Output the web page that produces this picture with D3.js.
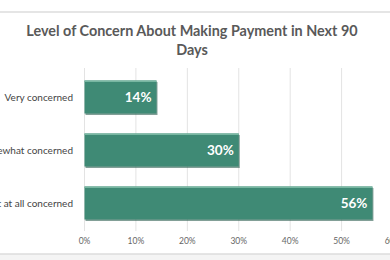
<!DOCTYPE html>
<html>
<head>
<meta charset="utf-8">
<script src="https://cdn.jsdelivr.net/npm/d3@7"></script>
<style>
  html, body { margin: 0; padding: 0; background: #fff; }
  svg { display: block; font-family: Lato, "Open Sans", sans-serif; }
</style>
</head>
<body>
<div id="chart"></div>
<script>
const titleLines = ['Level of Concern About Making Payment in Next 90', 'Days'];
const categories = ['Very concerned', 'Somewhat concerned', 'Not at all concerned'];
const values = [14, 30, 56];
const xTicks = [0, 10, 20, 30, 40, 50, 60];

const width = 390, height = 260;
const x0 = 84.5, x60 = 393;

const svg = d3.select('#chart').append('svg')
    .attr('width', width)
    .attr('height', height);

// frame lines from the screenshot
svg.append('line')
    .attr('x1', 0).attr('x2', width).attr('y1', 12).attr('y2', 12)
    .attr('stroke', '#dcdcdc').attr('stroke-width', 1.5);
svg.append('rect')
    .attr('x', 0).attr('y', 254).attr('width', width).attr('height', 6)
    .attr('fill', '#f4f4f4');
svg.append('line')
    .attr('x1', 0).attr('x2', width).attr('y1', 254).attr('y2', 254)
    .attr('stroke', '#dcdcdc').attr('stroke-width', 1.5);

// title
svg.append('text')
    .attr('x', 192).attr('y', 36)
    .attr('text-anchor', 'middle')
    .attr('font-size', 14.4).attr('font-weight', 700)
    .attr('fill', '#595959')
    .selectAll('tspan')
    .data(titleLines)
    .join('tspan')
    .attr('x', 192)
    .attr('dy', (d, i) => i === 0 ? 0 : 19)
    .text(d => d);

const x = d3.scaleLinear().domain([0, 60]).range([x0, x60]);
const y = d3.scaleBand()
    .domain(categories)
    .range([70.5, 229.5])
    .paddingInner(0.377)
    .paddingOuter(0.1885);

// gridlines
svg.append('g')
    .selectAll('line')
    .data(xTicks)
    .join('line')
    .attr('x1', d => x(d)).attr('x2', d => x(d))
    .attr('y1', 68).attr('y2', 231)
    .attr('stroke', '#e3e3e3').attr('stroke-width', 1);

// bars
const bars = svg.append('g').selectAll('g')
    .data(categories)
    .join('g');

bars.append('rect')
    .attr('x', x(0) + 1)
    .attr('y', d => y(d) + 1.5)
    .attr('width', (d, i) => x(values[i]) - x(0))
    .attr('height', y.bandwidth())
    .attr('fill', '#2e5f52')
    .attr('opacity', 0.6);

bars.append('rect')
    .attr('x', x(0))
    .attr('y', d => y(d))
    .attr('width', (d, i) => x(values[i]) - x(0))
    .attr('height', y.bandwidth())
    .attr('fill', '#3f8a75');

bars.append('line')
    .attr('x1', x(0)).attr('x2', (d, i) => x(values[i]))
    .attr('y1', d => y(d) + 0.8).attr('y2', d => y(d) + 0.8)
    .attr('stroke', '#78b7a2').attr('stroke-width', 1.5);

bars.append('text')
    .attr('x', (d, i) => x(values[i]) - 5)
    .attr('y', d => y(d) + y.bandwidth() / 2)
    .attr('dy', '0.35em')
    .attr('text-anchor', 'end')
    .attr('font-size', 13.5).attr('font-weight', 700)
    .attr('fill', '#fff')
    .text((d, i) => values[i] + '%');

// category labels
svg.append('g')
    .selectAll('text')
    .data(categories)
    .join('text')
    .attr('x', 73)
    .attr('y', d => y(d) + y.bandwidth() / 2)
    .attr('dy', '0.35em')
    .attr('text-anchor', 'end')
    .attr('font-size', 10)
    .attr('fill', '#444')
    .text(d => d);

// x tick labels
svg.append('g')
    .selectAll('text')
    .data(xTicks)
    .join('text')
    .attr('x', d => x(d))
    .attr('y', 244)
    .attr('text-anchor', 'middle')
    .attr('font-size', 8.5)
    .attr('fill', '#666')
    .text(d => d + '%');
</script>
</body>
</html>
